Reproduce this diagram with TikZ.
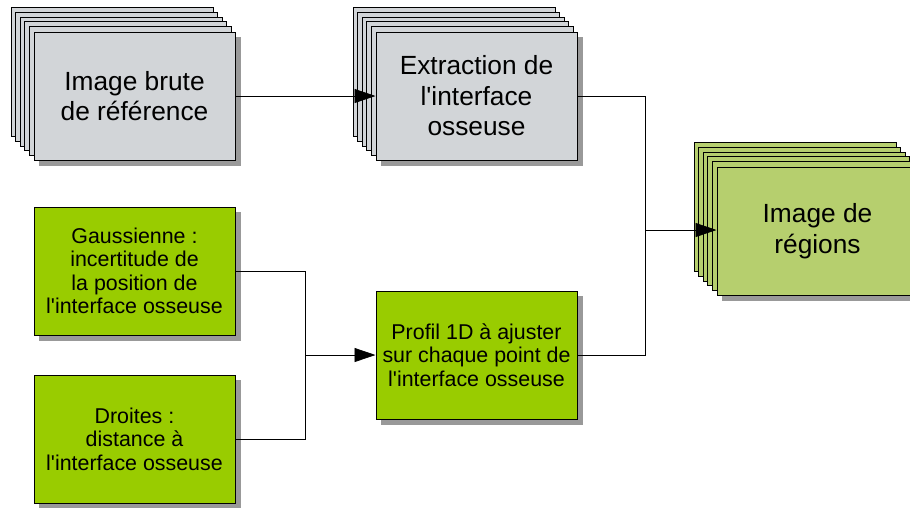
\documentclass[tikz,border=0pt]{standalone}
\usepackage{fontspec}
\setmainfont{Liberation Sans}
\usetikzlibrary{arrows.meta,calc,backgrounds}

\definecolor{boxgray}{RGB}{210,213,216}
\definecolor{boxgreen}{RGB}{153,204,0}
\definecolor{resgreen}{RGB}{182,207,110}
\definecolor{shadowgray}{RGB}{153,153,153}

\newcommand{\apos}{\textquotesingle}

\tikzset{
	box/.style={draw=black, line width=1pt, minimum width=201pt, minimum height=128pt,
		inner sep=0pt, align=center},
	layer/.style={draw=black, line width=1pt},
	bigtext/.style={font=\fontsize{26.3}{30.5}\selectfont},
	smalltext/.style={font=\fontsize{21.4}{23.5}\selectfont},
	link/.style={line width=0.8pt},
	arrow/.style={link, -{Triangle[length=21pt,width=14pt]}}
}

\begin{document}
\begin{tikzpicture}[x=1pt, y=-1pt]
	\useasboundingbox (0,0) rectangle (910,507);
	\clip (0,0) rectangle (910,507);
	% top row
	\node (brute) [box, fill=boxgray, bigtext] at (134.5,96) {Image brute\\de référence};
	\node (extr) [box, fill=boxgray, bigtext] at (476.5,96) {Extraction de\\l\apos interface\\osseuse};
	% result
	\node (regions) [box, fill=resgreen, bigtext] at (817.5,231) {Image de\\régions};
	% profiles
	\node (gauss) [box, fill=boxgreen, smalltext] at (134.5,271) {Gaussienne :\\incertitude de\\la position de\\l\apos interface osseuse};
	\node (droites) [box, fill=boxgreen, smalltext] at (134.5,439) {Droites :\\distance à\\l\apos interface osseuse};
	\node (profil) [box, fill=boxgreen, smalltext] at (476.5,355) {Profil 1D à ajuster\\sur chaque point de\\l\apos interface osseuse};

	% shadows and stacked copies
	\begin{scope}[on background layer]
		\foreach \n in {brute,extr,regions,gauss,droites,profil}
			\fill [shadowgray] ($(\n.north west)+(5,5)$) rectangle ($(\n.south east)+(5,5)$);
		\foreach \n/\c in {brute/boxgray,extr/boxgray,regions/resgreen}
			\foreach \s in {5,4,3,2,1}
				\draw [layer, fill=\c] ($(\n.north west)+(-4.5*\s,-4.8*\s)$) rectangle ($(\n.south east)+(-4.5*\s,-4.8*\s)$);
	\end{scope}

	\coordinate (jl) at (305,355);
	\coordinate (jr) at (645,230);

	\draw [arrow] (brute) -- (extr);
	\draw [link] (gauss.east) -| (jl);
	\draw [link] (droites.east) -| (jl);
	\draw [arrow] (jl) -- (profil.west);
	\draw [link] (extr.east) -| (jr);
	\draw [link] (profil.east) -| (jr);
	\draw [arrow] (jr) -- (regions.west |- jr);
\end{tikzpicture}
\end{document}
